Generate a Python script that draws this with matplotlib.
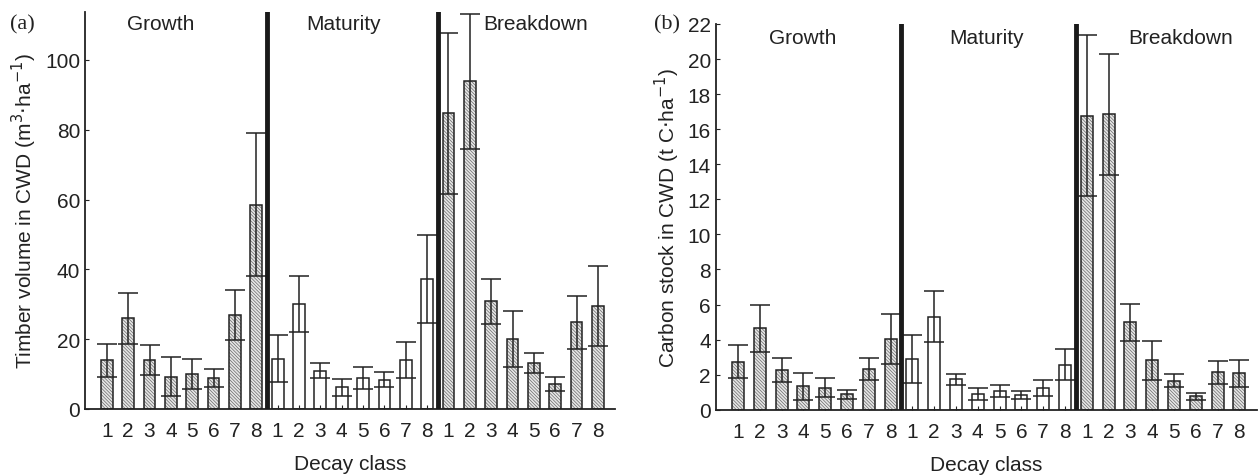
import numpy as np
import matplotlib
matplotlib.use('Agg')
import matplotlib.pyplot as plt

plt.rcParams['font.family'] = ['Liberation Sans', 'DejaVu Sans']
plt.rcParams['hatch.linewidth'] = 0.5

# decay classes 1-8 for each stand stage
classes = [1, 2, 3, 4, 5, 6, 7, 8]
stages = ['Growth', 'Maturity', 'Breakdown']

# timber volume in CWD (m3/ha)
vol_growth = [14.0, 26.0, 14.0, 9.3, 10.0, 8.9, 26.9, 58.5]
vol_growth_err = [4.7, 7.3, 4.25, 5.55, 4.3, 2.65, 7.05, 20.5]
vol_maturity = [14.4, 30.0, 10.9, 6.2, 8.9, 8.4, 14.0, 37.2]
vol_maturity_err = [6.7, 7.95, 2.15, 2.4, 3.2, 2.1, 5.15, 12.7]
vol_breakdown = [84.7, 93.8, 30.8, 20.0, 13.1, 7.1, 24.8, 29.4]
vol_breakdown_err = [23.1, 19.3, 6.5, 8.0, 2.8, 2.0, 7.5, 11.5]

# carbon stock in CWD (t C/ha)
c_growth = [2.74, 4.64, 2.26, 1.33, 1.24, 0.89, 2.32, 4.05]
c_growth_err = [0.95, 1.33, 0.67, 0.79, 0.54, 0.26, 0.62, 1.42]
c_maturity = [2.89, 5.30, 1.73, 0.89, 1.06, 0.82, 1.24, 2.57]
c_maturity_err = [1.37, 1.45, 0.33, 0.35, 0.36, 0.23, 0.46, 0.87]
c_breakdown = [16.77, 16.86, 4.98, 2.83, 1.65, 0.76, 2.13, 2.07]
c_breakdown_err = [4.58, 3.45, 1.04, 1.11, 0.38, 0.21, 0.66, 0.78]


def draw_panel(ax, groups, errs, hatched, ylim, yticks, ylabel, stage_pos, stage_y):
    n = len(classes)
    for g, (vals, err) in enumerate(zip(groups, errs)):
        x = np.arange(n) + g * n
        if hatched[g]:
            # gray hatch first, black outline drawn on top
            ax.bar(x, vals, width=0.55, color='#e6e6e6', edgecolor='#6a6a6a',
                   hatch='\\' * 10, linewidth=0, zorder=2)
        ax.bar(x, vals, width=0.55, color='none', edgecolor='#222222',
               linewidth=1.1, zorder=3)
        ax.errorbar(x, vals, yerr=err, fmt='none', ecolor='#222222',
                    elinewidth=1.1, capsize=7, capthick=1.1, zorder=4)

    for xv in [n - 0.5, 2 * n - 0.5]:
        ax.axvline(xv, color='#1a1a1a', linewidth=3.5, zorder=5)

    for name, xp in zip(stages, stage_pos):
        ax.text(xp, stage_y, name, transform=ax.get_xaxis_transform(),
                ha='center', va='center', fontsize=15, color='#222222')

    ax.set_xlim(-1.02, 3 * n - 0.2)
    ax.set_ylim(*ylim)
    ax.set_yticks(yticks)
    ax.set_xticks(np.arange(3 * n))
    ax.set_xticklabels([str(c) for c in classes] * 3)
    ax.tick_params(direction='in', length=3, labelsize=15, colors='#222222')
    ax.tick_params(axis='x', pad=9)
    ax.spines['top'].set_visible(False)
    ax.spines['right'].set_visible(False)
    for s in ['left', 'bottom']:
        ax.spines[s].set_linewidth(1.3)
        ax.spines[s].set_color('#222222')
    ax.set_xlabel('Decay class', fontsize=15, labelpad=10, color='#222222')
    ax.set_ylabel(ylabel, fontsize=15, color='#222222')


fig = plt.figure(figsize=(12.58, 4.77), dpi=100)
ax1 = fig.add_axes([0.0676, 0.1405, 0.4213, 0.8322])
ax2 = fig.add_axes([0.569, 0.139, 0.430, 0.8086])

draw_panel(ax1,
           [vol_growth, vol_maturity, vol_breakdown],
           [vol_growth_err, vol_maturity_err, vol_breakdown_err],
           [True, False, True],
           (0, 113.7), np.arange(0, 101, 20),
           'Timber volume in CWD (m$^{3}$$\\cdot$ha$^{-1}$)',
           [2.5, 11.1, 20.1], 0.97)

draw_panel(ax2,
           [c_growth, c_maturity, c_breakdown],
           [c_growth_err, c_maturity_err, c_breakdown_err],
           [True, False, True],
           (0, 22), np.arange(0, 23, 2),
           'Carbon stock in CWD (t C$\\cdot$ha$^{-1}$)',
           [2.95, 11.4, 20.3], 0.966)

fig.text(0.018, 0.947, '(a)', family=['Liberation Serif', 'DejaVu Serif'],
         fontsize=16, va='center', ha='center', color='#222222')
fig.text(0.530, 0.947, '(b)', family=['Liberation Serif', 'DejaVu Serif'],
         fontsize=16, va='center', ha='center', color='#222222')

fig.savefig('out.png', dpi=100)
